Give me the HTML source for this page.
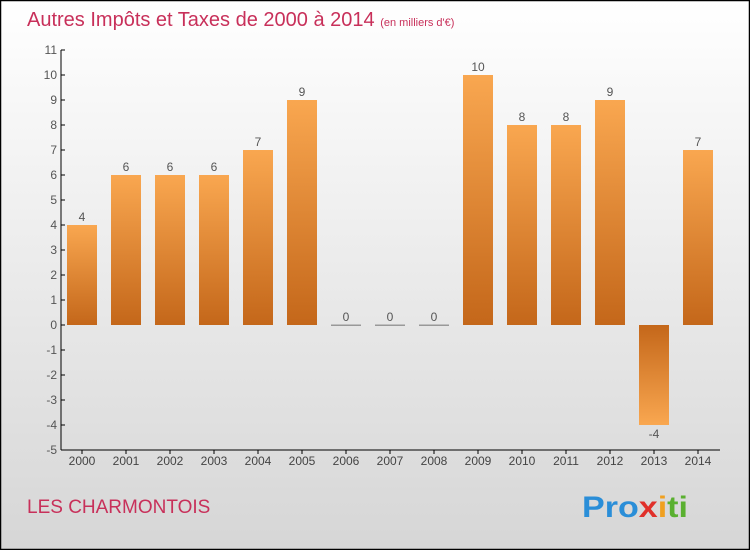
<!DOCTYPE html>
<html><head><meta charset="utf-8"><style>
html,body{margin:0;padding:0}
body{width:750px;height:550px;overflow:hidden;font-family:"Liberation Sans",sans-serif}
</style></head><body>
<svg id="chart" width="750" height="550" xmlns="http://www.w3.org/2000/svg">
<defs>
<linearGradient id="bg" x1="0" y1="0" x2="0" y2="1"><stop offset="0" stop-color="#ffffff"/><stop offset="1" stop-color="#d6d6d6"/></linearGradient>
<linearGradient id="bp" x1="0" y1="0" x2="0" y2="1"><stop offset="0" stop-color="#f9a750"/><stop offset="1" stop-color="#c4671a"/></linearGradient>
<linearGradient id="bn" x1="0" y1="0" x2="0" y2="1"><stop offset="0" stop-color="#c4671a"/><stop offset="1" stop-color="#f9a750"/></linearGradient>
</defs>
<rect x="0.5" y="0.5" width="749" height="549" fill="url(#bg)" stroke="#000" stroke-width="1.5"/>
<text x="27" y="26" font-size="20" fill="#c8305a">Autres Impôts et Taxes de 2000 à 2014 <tspan font-size="11">(en milliers d'€)</tspan></text>
<g id="bars"></g>
<g id="axes"></g>
<text x="27" y="513" font-size="19" fill="#c8305a">LES CHARMONTOIS</text>
<g font-size="30" font-weight="bold">
<text x="582" y="517" textLength="106" lengthAdjust="spacingAndGlyphs"><tspan fill="#2a8ed8">Pro</tspan><tspan fill="#e0302a">x</tspan><tspan fill="#f0a020">i</tspan><tspan fill="#5ab030">ti</tspan></text>
</g>
</svg>
<script>
const years=["2000","2001","2002","2003","2004","2005","2006","2007","2008","2009","2010","2011","2012","2013","2014"];
const values=[4,6,6,6,7,9,0,0,0,10,8,8,9,-4,7];
const yTicks=[11,10,9,8,7,6,5,4,3,2,1,0,-1,-2,-3,-4,-5];
const NS="http://www.w3.org/2000/svg";
function y(v){return 325-v*25;}
function x(i){return 82+i*44;}
const bars=document.getElementById('bars'),axes=document.getElementById('axes');
function mk(tag,attrs,parent){const e=document.createElementNS(NS,tag);for(const k in attrs)e.setAttribute(k,attrs[k]);parent.appendChild(e);return e;}
values.forEach((v,i)=>{
  if(v!==0){
    const r=mk('rect',{x:x(i)-15,y:Math.min(y(v),y(0)),width:30,height:Math.abs(y(v)-y(0)),fill:v>0?'url(#bp)':'url(#bn)'},bars);
    
    
  } else {
    const r=mk('rect',{x:x(i)-15,y:y(0)-0.5,width:30,height:1.5,fill:'#999'},bars);
    
    
  }
  const t=mk('text',{x:x(i),y:v>=0?y(v)-4:y(v)+13,'text-anchor':'middle','font-size':12,fill:'#555'},bars);
  t.textContent=String(v);
  
  
  const xl=mk('text',{x:x(i),y:465,'text-anchor':'middle','font-size':12,fill:'#444'},axes);
  xl.textContent=years[i];
  
  
  mk('line',{x1:x(i),x2:x(i),y1:450,y2:454,stroke:'#000'},axes);
});
yTicks.forEach(v=>{
  mk('line',{x1:61,x2:65,y1:y(v),y2:y(v),stroke:'#000'},axes);
  const t=mk('text',{x:57,y:y(v)+4,'text-anchor':'end','font-size':12,fill:'#555'},axes);
  t.textContent=String(v);
  
  
});
const ya=mk('line',{x1:61,x2:61,y1:50,y2:450,stroke:'#000','stroke-width':1},axes);


const xa=mk('line',{x1:61,x2:720,y1:450,y2:450,stroke:'#000','stroke-width':1},axes);


</script>
</body></html>
